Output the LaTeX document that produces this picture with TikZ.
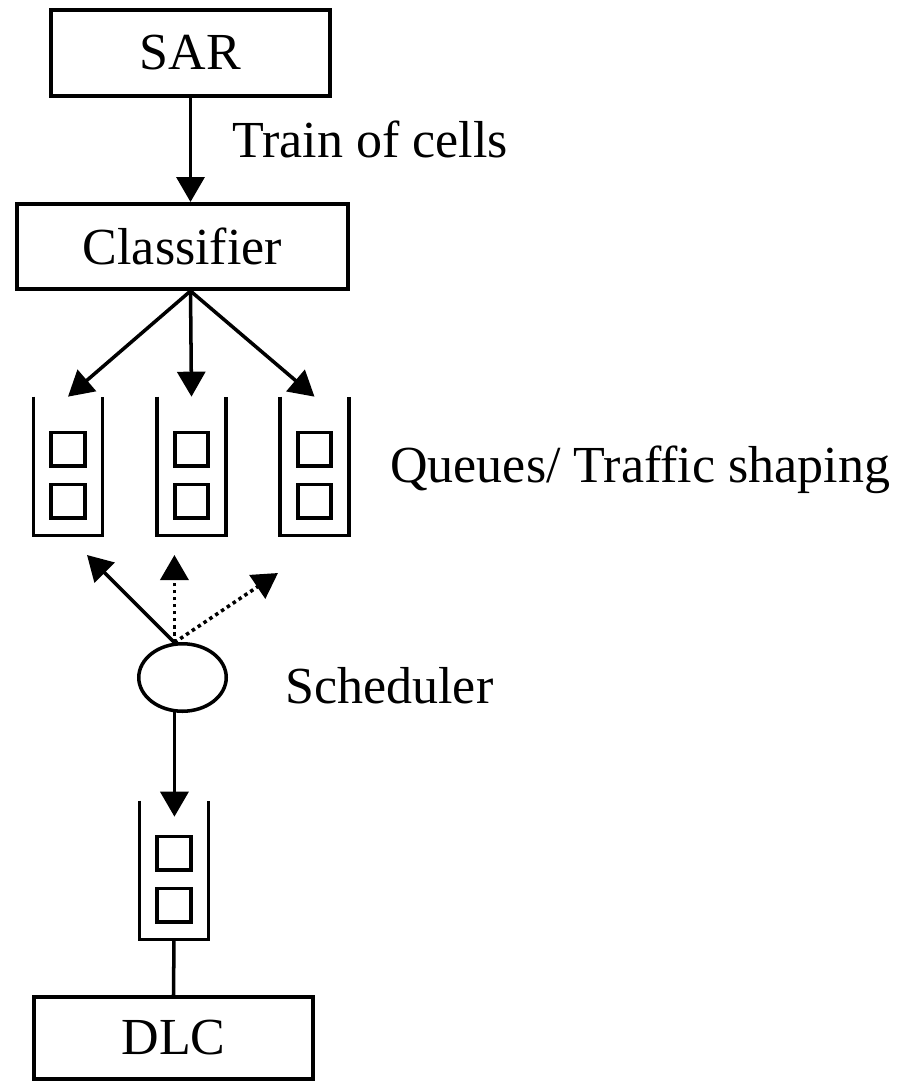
\documentclass[tikz,border=0pt]{standalone}
\usepackage{fontspec}
\setmainfont{Liberation Serif}
\usetikzlibrary{arrows.meta,shapes.geometric,calc}

\begin{document}
\begin{tikzpicture}[
    x=0.02cm, y=-0.02cm,
    font=\fontsize{29.6pt}{36pt}\selectfont,
    box/.style={rectangle, draw, line width=2pt, inner sep=0pt},
    queue/.style={rectangle, minimum width=1.37cm, minimum height=2.76cm, inner sep=0pt},
    cell/.style={rectangle, draw, line width=2pt, minimum size=0.67cm, inner sep=0pt},
    wall/.style={line width=2pt},
    oval/.style={ellipse, draw, line width=2pt, minimum width=1.75cm, minimum height=1.35cm, inner sep=0pt},
    arrow/.style={-{Triangle[length=0.5cm, width=0.56cm]}, line width=2pt},
    dotarrow/.style={arrow, dash pattern=on 2pt off 2pt},
    txt/.style={anchor=base west, inner sep=0pt}
]
\useasboundingbox (0,0) rectangle (903,1082);

% Boxes
\node[box, minimum width=5.59cm, minimum height=1.73cm] (sar) at (190.5,53) {SAR};
\node[box, minimum width=6.63cm, minimum height=1.71cm] (cls) at (182.5,246.5) {Classifier};
\node[box, minimum width=5.59cm, minimum height=1.65cm] (dlc) at (173.5,1038) {DLC};

% Queues with two cells each
\foreach \n/\x/\y in {q1/68/466, q2/191.5/466, q3/314.5/466, q4/174/870}{
  \node[queue] (\n) at (\x,\y) {};
  \draw[wall] (\n.north west) |- (\n.south east) -- (\n.north east);
  \node[cell] (\n a) at (\x,\y-17) {};
  \node[cell] (\n b) at (\x,\y+35) {};
}

% Scheduler
\node[oval] (sched) at (182.5,677.5) {};

% Labels
\node[txt] (train) at (232,157) {Train of cells};
\node[txt] (qlabel) at (390,482) {Queues/ Traffic shaping};
\node[txt] (slabel) at (285,703) {Scheduler};

% Arrows
\draw[arrow] (sar.south) -- (sar.south |- cls.north);
\coordinate (fork) at (sar.south |- cls.south);
\foreach \q in {q1,q2,q3}
  \draw[arrow] (fork) -- (\q.north);

\coordinate (up1) at (87,555);
\coordinate (up2) at ($(sched.103 |- up1)$);
\coordinate (up3) at (278,573);
\draw[arrow] (sched.103) -- (up1);
\draw[dotarrow] (sched.103) -- (up2);
\draw[dotarrow] (sched.103) -- (up3);

\draw[arrow] (sched.-103) -- ($(sched.-103 |- q4.north)+(0,16)$);
\draw[wall] (q4.south) -- (dlc.north);

\end{tikzpicture}
\end{document}
